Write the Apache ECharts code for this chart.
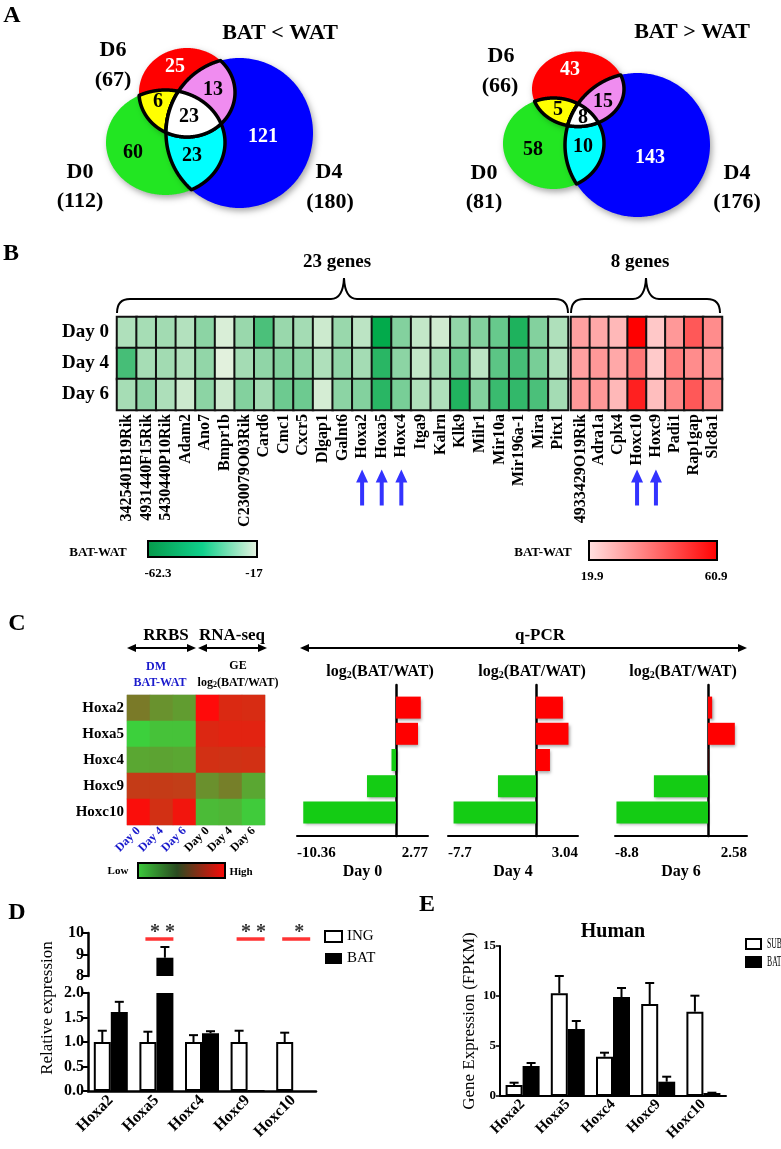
<!DOCTYPE html>
<html>
<head>
<meta charset="utf-8">
<script src="https://cdn.jsdelivr.net/npm/echarts@6.0.0/dist/echarts.min.js"></script>
<style>
html,body{margin:0;padding:0;background:#ffffff;}
#chart{width:781px;height:1149px;}
</style>
</head>
<body>
<div id="chart"></div>
<script>
// ================= DATA =================
// ---- Panel A (Venn counts)
const vennSetNames = ['D0', 'D6', 'D4'];
const vennTitles = ['BAT < WAT', 'BAT > WAT'];
const vennLeftTotals = [112, 67, 180];
const vennRightTotals = [81, 66, 176];
// region order: D0 only, D6 only, D4 only, D0&D6, D0&D4, D6&D4, D0&D6&D4
const vennLeftCounts = [60, 25, 121, 6, 23, 13, 23];
const vennRightCounts = [58, 43, 143, 5, 10, 15, 8];

// ---- Panel B (heatmaps, BAT-WAT)
const dayRows = ['Day 0', 'Day 4', 'Day 6'];
const genesDown = ['3425401B19Rik','4931440F15Rik','5430440P10Rik','Adam2','Ano7','Bmpr1b','C230079O03Rik','Card6','Cmc1','Cxcr5','Dlgap1','Galnt6','Hoxa2','Hoxa5','Hoxc4','Itga9','Kalrn','Klk9','Milr1','Mir10a','Mir196a-1','Mira','Pitx1'];
const downDay0 = [-29, -31, -32, -28, -37, -19.5, -34, -49, -34, -31.5, -22.5, -34, -26, -62, -39, -24.5, -21.5, -35.5, -39, -44, -57, -39, -29];
const downDay4 = [-50, -31, -32, -29, -35.5, -17.5, -31.5, -36, -39, -37, -29, -36, -31.5, -55, -37, -24.5, -31, -43, -26, -46, -50, -41, -28];
const downDay6 = [-31, -36, -29.5, -22.5, -37, -22.5, -39, -31.5, -43, -43, -20.5, -37, -39, -55, -41, -29, -29, -56.5, -39, -52, -53.5, -49, -31.5];
const genesUp = ['4933429O19Rik','Adra1a','Cplx4','Hoxc10','Hoxc9','Padi1','Rap1gap','Slc8a1'];
const upDay0 = [31.6, 30.2, 27.2, 60.9, 24.3, 33.1, 44.8, 35.3];
const upDay4 = [31.6, 33.1, 30.2, 38.9, 23.9, 37.5, 35.3, 33.1];
const upDay6 = [33.1, 33.1, 27.2, 55.0, 26.1, 36.0, 44.8, 36.0];
const downScale = [-62.3, -17];
const upScale = [19.9, 60.9];
const downGroupLabel = '23 genes';
const upGroupLabel = '8 genes';
const arrowGenesDown = ['Hoxa2', 'Hoxa5', 'Hoxc4'];
const arrowGenesUp = ['Hoxc10', 'Hoxc9'];

// ---- Panel C
const hoxGenes = ['Hoxa2', 'Hoxa5', 'Hoxc4', 'Hoxc9', 'Hoxc10'];
const cColumns = ['Day 0', 'Day 4', 'Day 6', 'Day 0', 'Day 4', 'Day 6'];
// relative level 0 (low) .. 1 (high)
const dmDay0 = [0.50, 0.00, 0.24, 0.78, 0.98];
const dmDay4 = [0.36, 0.08, 0.26, 0.78, 0.83];
const dmDay6 = [0.30, 0.08, 0.24, 0.77, 0.95];
const geDay0 = [1.00, 0.87, 0.83, 0.37, 0.12];
const geDay4 = [0.86, 0.89, 0.82, 0.47, 0.15];
const geDay6 = [0.85, 0.89, 0.83, 0.24, 0.03];
const qpcrDays = ['Day 0', 'Day 4', 'Day 6'];
const qpcrDay0 = [2.77, 2.46, -0.5, -3.24, -10.36];
const qpcrDay4 = [2.52, 3.04, 1.31, -3.55, -7.7];
const qpcrDay6 = [0.4, 2.58, 0.02, -5.2, -8.8];
const qpcrAxisMin = [-11.06, -8.22, -8.94];
const qpcrAxisMax = [3.58, 3.93, 3.75];

// ---- Panel D (mouse, relative expression)
const ingMean = [1.0, 1.0, 1.0, 1.0, 1.0];
const ingErrTop = [1.23, 1.21, 1.14, 1.23, 1.19];
const batMean = [1.61, 8.85, 1.18, 0.02, 0.0];
const batErrTop = [1.82, 9.35, 1.22, 0.02, 0.0];
const sigGenes = ['Hoxa5', 'Hoxc9', 'Hoxc10'];
const sigMarks = ['* *', '* *', '*'];

// ---- Panel E (human, FPKM)
const subMean = [1.1, 10.27, 3.93, 9.2, 8.43];
const subErrTop = [1.33, 12.0, 4.33, 11.3, 10.03];
const batHMean = [3.0, 6.7, 9.9, 1.43, 0.3];
const batHErrTop = [3.3, 7.5, 10.8, 1.93, 0.33];
const eLegend = ['SUB', 'BAT'];

// ================= HELPERS / LAYOUT =================
const FONT = 'Liberation Serif';
function fnt(size, weight) { return (weight || 'bold') + ' ' + size + 'px "' + FONT + '"'; }
function gText(x, y, text, size, o) {
  o = o || {};
  const st = { text: text, font: fnt(size, o.weight), fill: o.color || '#000',
    textAlign: o.align || 'center', textVerticalAlign: 'middle', align: o.align || 'center', verticalAlign: 'middle' };
  if (o.rich) st.rich = o.rich;
  const el = { type: 'text', x: x, y: y, rotation: o.rotation || 0, silent: true, z: 100, style: st };
  if (o.scaleX) el.scaleX = o.scaleX;
  return el;
}
function logRich(size, sub) {
  return {
    n: { fontSize: size, fontWeight: 'bold', fontFamily: FONT, fill: '#000', color: '#000' },
    s: { fontSize: sub, fontWeight: 'bold', fontFamily: FONT, fill: '#000', color: '#000', verticalAlign: 'bottom' }
  };
}
function gLine(x1, y1, x2, y2, w) {
  return { type: 'line', silent: true, shape: { x1: x1, y1: y1, x2: x2, y2: y2 }, style: { stroke: '#000', lineWidth: w || 2 } };
}
function gQuad(x1, y1, cx, cy, x2, y2) {
  return { type: 'bezierCurve', silent: true, shape: { x1: x1, y1: y1, x2: x2, y2: y2, cpx1: cx, cpy1: cy },
    style: { stroke: '#000', lineWidth: 2, fill: null } };
}
function brace(xa, xb, xm, yEnd, yLine, yTip) {
  const r = 13;
  return [
    gQuad(xa, yEnd, xa, yLine, xa + r, yLine),
    gLine(xa + r, yLine, xm - r, yLine),
    gQuad(xm - r, yLine, xm - 1, yLine, xm, yTip),
    gQuad(xm, yTip, xm + 1, yLine, xm + r, yLine),
    gLine(xm + r, yLine, xb - r, yLine),
    gQuad(xb - r, yLine, xb, yLine, xb, yEnd)
  ];
}
function dblArrow(x1, x2, y) {
  return [
    gLine(x1 + 4, y, x2 - 4, y, 2),
    { type: 'polygon', silent: true, shape: { points: [[x1, y], [x1 + 9, y - 4], [x1 + 9, y + 4]] }, style: { fill: '#000' } },
    { type: 'polygon', silent: true, shape: { points: [[x2, y], [x2 - 9, y - 4], [x2 - 9, y + 4]] }, style: { fill: '#000' } }
  ];
}
function colorBar(x, y, w, h, stops) {
  return { type: 'rect', silent: true, shape: { x: x, y: y, width: w, height: h },
    style: { fill: { type: 'linear', x: 0, y: 0, x2: 1, y2: 0, colorStops: stops }, stroke: '#000', lineWidth: 2 } };
}

// Venn geometry (ellipses: cx, cy, rx, ry) and label positions, order D0, D6, D4
const VENN_LAYOUT = [
  { sets: [[165.5, 142.5, 59.5, 52.5], [187, 92.5, 48, 44.5], [239.5, 133, 73.5, 75]],
    nums: [[133, 153], [175, 67], [263, 137], [158, 102], [192, 156], [213, 90], [189, 117]],
    setLabels: [[80, 172], [113, 50], [329, 172]], totalLabels: [[80, 201], [113, 80], [330, 202]],
    title: [280, 33] },
  { sets: [[553.5, 143.5, 50.5, 45.5], [578, 89, 46, 37.5], [637.5, 145, 72.5, 72]],
    nums: [[533, 150], [570, 70], [650, 158], [558, 110], [583, 147], [603, 102], [583, 118]],
    setLabels: [[484, 173], [501, 56], [737, 173]], totalLabels: [[484, 202], [500, 86], [737, 202]],
    title: [692, 32] }
];
const setFill = ['#22e622', '#ff0000', '#0000ff'];
const pairFill = [[0, 1, '#ffff00'], [0, 2, '#00ffff'], [1, 2, '#f08cf0']];

function ellipsePts(e, n) {
  const pts = [];
  for (let k = 0; k < n; k++) { const a = 2 * Math.PI * k / n; pts.push([e[0] + e[2] * Math.cos(a), e[1] + e[3] * Math.sin(a)]); }
  return pts;
}
function insideE(e, p) { const dx = (p[0] - e[0]) / e[2], dy = (p[1] - e[1]) / e[3]; return dx * dx + dy * dy <= 1.000001; }
function regionPts(es) {
  const pts = [];
  es.forEach((e, i) => ellipsePts(e, 1440).forEach(p => { if (es.every((o, j) => j === i || insideE(o, p))) pts.push(p); }));
  let cx = 0, cy = 0; pts.forEach(p => { cx += p[0]; cy += p[1]; }); cx /= pts.length; cy /= pts.length;
  pts.sort((a, b) => Math.atan2(a[1] - cy, a[0] - cx) - Math.atan2(b[1] - cy, b[0] - cx));
  return pts;
}
function renderVenn(params, api) {
  const idx = params.dataIndex;
  const L = VENN_LAYOUT[idx];
  const counts = idx === 0 ? vennLeftCounts : vennRightCounts;
  const totals = idx === 0 ? vennLeftTotals : vennRightTotals;
  const px = p => api.coord(p);
  const poly = pts => pts.map(px);
  const ch = [];
  [0, 1, 2].forEach(i => ch.push({ type: 'polygon', shape: { points: poly(ellipsePts(L.sets[i], 360)) },
    style: { fill: setFill[i], shadowBlur: 6, shadowColor: 'rgba(0,0,0,0.35)', shadowOffsetX: 2, shadowOffsetY: 3 } }));
  pairFill.forEach(pf => ch.push({ type: 'polygon', shape: { points: poly(regionPts([L.sets[pf[0]], L.sets[pf[1]]])) },
    style: { fill: pf[2], stroke: '#000', lineWidth: 3.5, lineJoin: 'round' } }));
  ch.push({ type: 'polygon', shape: { points: poly(regionPts(L.sets)) }, style: { fill: '#fff', stroke: '#000', lineWidth: 3.5, lineJoin: 'round' } });
  const t = (p, text, size, color) => { const q = px(p); return { type: 'text', x: q[0], y: q[1],
    style: { text: text, fill: color, font: fnt(size), textAlign: 'center', textVerticalAlign: 'middle', align: 'center', verticalAlign: 'middle' } }; };
  counts.forEach((n, k) => ch.push(t(L.nums[k], String(n), 20, (k === 1 || k === 2) ? '#fff' : '#000')));
  vennSetNames.forEach((s, k) => { ch.push(t(L.setLabels[k], s, 22, '#000')); ch.push(t(L.totalLabels[k], '(' + totals[k] + ')', 22, '#000')); });
  ch.push(t(L.title, vennTitles[idx], 22, '#000'));
  return { type: 'group', children: ch };
}

function heat(rows) {
  const d = [];
  rows.forEach((r, yi) => r.forEach((v, xi) => d.push([xi, yi, v])));
  return d;
}
function errSeries(xi, yi, means, tops, offset, keep) {
  const data = [];
  means.forEach((m, i) => { if (tops[i] > m && keep(tops[i], m)) data.push([i, tops[i], m]); });
  return { type: 'custom', xAxisIndex: xi, yAxisIndex: yi, data: data, silent: true, z: 5,
    renderItem: function (params, api) {
      const i = api.value(0), top = api.value(1), base = api.value(2);
      const p1 = api.coord([i, base]), p2 = api.coord([i, top]);
      const x = p1[0] + offset;
      return { type: 'group', children: [
        { type: 'line', shape: { x1: x, y1: p1[1], x2: x, y2: p2[1] }, style: { stroke: '#000', lineWidth: 2 } },
        { type: 'line', shape: { x1: x - 4.5, y1: p2[1], x2: x + 4.5, y2: p2[1] }, style: { stroke: '#000', lineWidth: 2 } }
      ] };
    } };
}

const BAR_W = 17;
const axisBlack = w => ({ show: true, onZero: false, lineStyle: { color: '#000', width: w } });
const hid = (type, gi, extra) => Object.assign({ type: type, gridIndex: gi, show: false }, extra || {});

// ================= GRIDS =================
const grids = [
  { left: 0, top: 0, width: 781, height: 1149 },            // 0 page (venn)
  { left: 117, top: 317, width: 451, height: 93 },           // 1 B down
  { left: 571, top: 317, width: 151, height: 93 },           // 2 B up
  { left: 117, top: 469, width: 451, height: 37 },           // 3 arrows down
  { left: 571, top: 469, width: 151, height: 37 },           // 4 arrows up
  { left: 127, top: 695, width: 138, height: 130, show: true, borderColor: '#d8d8d8', borderWidth: 1 }, // 5 C heat
  { left: 297, top: 694.5, width: 131, height: 131 },        // 6 qPCR bars
  { left: 448, top: 694.5, width: 130, height: 131 },        // 7
  { left: 615, top: 694.5, width: 132, height: 131 },        // 8
  { left: 297, top: 685, width: 131, height: 151 },          // 9 qPCR frame
  { left: 448, top: 685, width: 130, height: 151 },          // 10
  { left: 615, top: 685, width: 132, height: 151 },          // 11
  { left: 88, top: 933, width: 228, height: 43 },            // 12 D upper
  { left: 88, top: 993, width: 228, height: 98 },            // 13 D lower
  { left: 500, top: 946, width: 226, height: 150 }           // 14 E
];

const geneLabel = { rotate: 90, interval: 0, fontFamily: FONT, fontWeight: 'bold', fontSize: 16, color: '#000', margin: 4 };
const qpcrData = [qpcrDay0, qpcrDay4, qpcrDay6];

const xAxes = [
  hid('value', 0, { min: 0, max: 781 }),
  { type: 'category', gridIndex: 1, data: genesDown, axisLine: { show: false }, axisTick: { show: false }, axisLabel: geneLabel },
  { type: 'category', gridIndex: 2, data: genesUp, axisLine: { show: false }, axisTick: { show: false }, axisLabel: geneLabel },
  hid('category', 3, { data: genesDown }),
  hid('category', 4, { data: genesUp }),
  { type: 'category', gridIndex: 5, data: cColumns, axisLine: { show: false }, axisTick: { show: false },
    axisLabel: { rotate: 45, interval: 0, fontFamily: FONT, fontWeight: 'bold', fontSize: 12, margin: 4,
      color: (v, i) => (i < 3 ? '#1a1acc' : '#000') } }
];
[0, 1, 2].forEach(k => xAxes.push(hid('value', 6 + k, { min: qpcrAxisMin[k], max: qpcrAxisMax[k] })));
[0, 1, 2].forEach(k => {
  const lo = String(Math.min.apply(null, qpcrData[k])), hi = String(Math.max.apply(null, qpcrData[k]));
  xAxes.push({ type: 'value', gridIndex: 9 + k, min: qpcrAxisMin[k], max: qpcrAxisMax[k],
    axisLine: axisBlack(2), axisTick: { show: false }, splitLine: { show: false },
    axisLabel: { customValues: [qpcrAxisMin[k], qpcrAxisMax[k]], formatter: v => (v < 0 ? lo : hi),
      alignMinLabel: 'left', alignMaxLabel: 'right', fontFamily: FONT, fontWeight: 'bold', fontSize: 15, color: '#000', margin: 10 },
    name: qpcrDays[k], nameLocation: 'middle', nameGap: 28,
    nameTextStyle: { fontFamily: FONT, fontWeight: 'bold', fontSize: 16, color: '#000' } });
});
xAxes.push(hid('category', 12, { data: hoxGenes }));
xAxes.push({ type: 'category', gridIndex: 13, data: hoxGenes, axisLine: axisBlack(2.5),
  axisTick: { alignWithLabel: true, length: 5, lineStyle: { color: '#000', width: 2 } },
  axisLabel: { rotate: 45, interval: 0, fontFamily: FONT, fontWeight: 'bold', fontSize: 16, color: '#000', margin: 7 } });
xAxes.push({ type: 'category', gridIndex: 14, data: hoxGenes, axisLine: axisBlack(2),
  axisTick: { alignWithLabel: true, length: 4, lineStyle: { color: '#000', width: 1.5 } },
  axisLabel: { rotate: 45, interval: 0, fontFamily: FONT, fontWeight: 'bold', fontSize: 15, color: '#000', margin: 6 } });

const yAxes = [
  hid('value', 0, { min: 0, max: 1149, inverse: true }),
  { type: 'category', gridIndex: 1, data: dayRows, inverse: true, axisLine: { show: false }, axisTick: { show: false },
    axisLabel: { fontFamily: FONT, fontWeight: 'bold', fontSize: 19, color: '#000', margin: 8 } },
  hid('category', 2, { data: dayRows, inverse: true }),
  hid('value', 3, { min: 0, max: 1 }),
  hid('value', 4, { min: 0, max: 1 }),
  { type: 'category', gridIndex: 5, data: hoxGenes, inverse: true, axisLine: { show: false }, axisTick: { show: false },
    axisLabel: { fontFamily: FONT, fontWeight: 'bold', fontSize: 15, color: '#000', margin: 3 } }
];
[0, 1, 2].forEach(k => yAxes.push(hid('category', 6 + k, { data: hoxGenes, inverse: true })));
[0, 1, 2].forEach(k => yAxes.push({ type: 'value', gridIndex: 9 + k, min: 0, max: 1,
  axisLine: { show: true, onZero: true, lineStyle: { color: '#000', width: 2.5 } }, axisTick: { show: false },
  axisLabel: { show: false }, splitLine: { show: false } }));
const yTickStyle = { show: true, length: 5, lineStyle: { color: '#000', width: 2 } };
const yLabStyle = { fontFamily: FONT, fontWeight: 'bold', fontSize: 16, color: '#000', margin: 4 };
yAxes.push({ type: 'value', gridIndex: 12, min: 8, max: 10, interval: 1, axisLine: axisBlack(2.5), axisTick: yTickStyle,
  splitLine: { show: false }, axisLabel: yLabStyle });
yAxes.push({ type: 'value', gridIndex: 13, min: 0, max: 2, interval: 0.5, axisLine: axisBlack(2.5), axisTick: yTickStyle,
  splitLine: { show: false }, axisLabel: Object.assign({ formatter: v => v.toFixed(1) }, yLabStyle) });
yAxes.push({ type: 'value', gridIndex: 14, min: 0, max: 15, interval: 5, axisLine: axisBlack(2),
  axisTick: { show: true, length: 4, lineStyle: { color: '#000', width: 1.5 } }, splitLine: { show: false },
  axisLabel: { fontFamily: FONT, fontWeight: 'bold', fontSize: 13, color: '#000', margin: 4 },
  name: 'Gene Expression (FPKM)', nameLocation: 'middle', nameGap: 22,
  nameTextStyle: { fontFamily: FONT, fontSize: 17, color: '#000' } });

// ================= SERIES =================
const ARROW = 'path://M6,0 L12,13 L8,13 L8,36 L4,36 L4,13 L0,13 Z';
const series = [];
series.push({ type: 'custom', xAxisIndex: 0, yAxisIndex: 0, data: [[0, 0], [1, 0]], renderItem: renderVenn, silent: true, clip: false });
const sDown = series.length;
series.push({ type: 'heatmap', xAxisIndex: 1, yAxisIndex: 1, data: heat([downDay0, downDay4, downDay6]),
  itemStyle: { borderColor: '#111', borderWidth: 2 }, emphasis: { disabled: true } });
const sUp = series.length;
series.push({ type: 'heatmap', xAxisIndex: 2, yAxisIndex: 2, data: heat([upDay0, upDay4, upDay6]),
  itemStyle: { borderColor: '#111', borderWidth: 2 }, emphasis: { disabled: true } });
series.push({ type: 'scatter', xAxisIndex: 3, yAxisIndex: 3, data: arrowGenesDown.map(g => [g, 0.5]), symbol: ARROW,
  symbolSize: [12, 36], itemStyle: { color: '#0000ff' }, silent: true });
series.push({ type: 'scatter', xAxisIndex: 4, yAxisIndex: 4, data: arrowGenesUp.map(g => [g, 0.5]), symbol: ARROW,
  symbolSize: [12, 36], itemStyle: { color: '#0000ff' }, silent: true });
const sC = series.length;
const cCols = [dmDay0, dmDay4, dmDay6, geDay0, geDay4, geDay6];
const cData = [];
cCols.forEach((col, c) => col.forEach((v, r) => cData.push([c, r, v])));
series.push({ type: 'heatmap', xAxisIndex: 5, yAxisIndex: 5, data: cData, emphasis: { disabled: true } });
qpcrData.forEach((vals, k) => series.push({ type: 'bar', xAxisIndex: 6 + k, yAxisIndex: 6 + k, data: vals, barWidth: 22, silent: true,
  itemStyle: { color: p => (p.value >= 0 ? '#ff0000' : '#14cc14'), shadowBlur: 3, shadowColor: 'rgba(0,0,0,0.35)', shadowOffsetX: 1.5, shadowOffsetY: 2 } }));

// Panel D
const whiteBar = { color: '#fff', borderColor: '#000', borderWidth: 2 };
const blackBar = { color: '#000' };
series.push({ type: 'bar', name: 'ING', xAxisIndex: 13, yAxisIndex: 13, data: ingMean, barWidth: BAR_W, barGap: '0%', itemStyle: whiteBar, silent: true });
series.push({ type: 'bar', name: 'BAT', xAxisIndex: 13, yAxisIndex: 13, data: batMean, barWidth: BAR_W, barGap: '0%', itemStyle: blackBar, silent: true });
series.push({ type: 'bar', name: 'ING', xAxisIndex: 12, yAxisIndex: 12, data: ingMean.map(v => (v > 8 ? v : '-')), barWidth: BAR_W, barGap: '0%', itemStyle: whiteBar, silent: true });
series.push({ type: 'bar', name: 'BAT', xAxisIndex: 12, yAxisIndex: 12, data: batMean.map(v => (v > 8 ? v : '-')), barWidth: BAR_W, barGap: '0%', itemStyle: blackBar, silent: true });
series.push(errSeries(13, 13, ingMean, ingErrTop, -BAR_W / 2, (t) => t <= 2));
series.push(errSeries(13, 13, batMean, batErrTop, BAR_W / 2, (t) => t <= 2));
series.push(errSeries(12, 12, batMean, batErrTop, BAR_W / 2, (t, m) => m >= 8));
series.push({ type: 'scatter', xAxisIndex: 12, yAxisIndex: 12, silent: true, symbol: 'rect', symbolSize: [28, 3.5], symbolOffset: [3, 0],
  itemStyle: { color: '#ff0000' },
  data: sigGenes.map((g, k) => ({ value: [g, 9.72], label: { formatter: sigMarks[k] } })),
  label: { show: true, position: 'top', distance: -6, offset: [3, 0], fontFamily: FONT, fontWeight: 'bold', fontSize: 20, color: '#000' } });

// Panel E
series.push({ type: 'bar', name: 'SUB', xAxisIndex: 14, yAxisIndex: 14, data: subMean, barWidth: BAR_W, barGap: '0%', itemStyle: whiteBar, silent: true });
series.push({ type: 'bar', name: 'BAT', xAxisIndex: 14, yAxisIndex: 14, data: batHMean, barWidth: BAR_W, barGap: '0%', itemStyle: blackBar, silent: true });
series.push(errSeries(14, 14, subMean, subErrTop, -BAR_W / 2, () => true));
series.push(errSeries(14, 14, batHMean, batHErrTop, BAR_W / 2, () => true));

// ================= GRAPHIC ANNOTATIONS =================
const G = [];
// panel letters
G.push(gText(12, 16, 'A', 24), gText(11, 254, 'B', 24), gText(17, 624, 'C', 24), gText(17, 913, 'D', 24), gText(427, 905, 'E', 24));
// B braces + labels
brace(117, 568, 344, 313, 299, 278).forEach(e => G.push(e));
brace(571, 720, 646, 313, 299, 278).forEach(e => G.push(e));
G.push(gText(337, 262, downGroupLabel, 19), gText(640, 262, upGroupLabel, 19));
// B color bars
G.push(gText(98, 553, 'BAT-WAT', 13));
G.push(colorBar(148, 541, 109, 16, [{ offset: 0, color: '#06994a' }, { offset: 0.5, color: '#10d08c' }, { offset: 1, color: '#eaf3e2' }]));
G.push(gText(158, 574, String(downScale[0]), 13), gText(254, 574, String(downScale[1]), 13));
G.push(gText(543, 553, 'BAT-WAT', 13));
G.push(colorBar(589, 541, 128, 19, [{ offset: 0, color: '#ffe2e2' }, { offset: 1, color: '#ff0000' }]));
G.push(gText(592, 577, String(upScale[0]), 13), gText(716, 577, String(upScale[1]), 13));
// C headers
G.push(gText(166, 636, 'RRBS', 17), gText(232, 636, 'RNA-seq', 17));
dblArrow(127, 196, 648).forEach(e => G.push(e));
dblArrow(198, 267, 648).forEach(e => G.push(e));
G.push(gText(156, 667, 'DM', 12, { color: '#1a1acc' }), gText(160, 683, 'BAT-WAT', 12, { color: '#1a1acc' }));
G.push(gText(238, 666, 'GE', 12), gText(238, 683, '{n|log}{s|2}{n|(BAT/WAT)}', 12, { rich: logRich(12, 8) }));
G.push(gText(540, 636, 'q-PCR', 17));
dblArrow(300, 747, 648).forEach(e => G.push(e));
[380, 532, 683].forEach(x => G.push(gText(x, 672, '{n|log}{s|2}{n|(BAT/WAT)}', 16, { rich: logRich(16, 10) })));
G.push(colorBar(138, 863, 87, 15, [{ offset: 0, color: '#3ccc3c' }, { offset: 0.45, color: '#2a4a20' }, { offset: 1, color: '#ff0808' }]));
G.push(gText(118, 871, 'Low', 11), gText(241, 872, 'High', 11));
// D y-axis name (spans broken axis)
G.push(gText(48, 1008, 'Relative expression', 17, { weight: 'normal', rotation: Math.PI / 2 }));
// E title
G.push(gText(613, 932, 'Human', 20));
// E legend (narrow space at the right edge)
G.push({ type: 'rect', silent: true, shape: { x: 746, y: 939, width: 15, height: 10 }, style: { fill: '#fff', stroke: '#000', lineWidth: 2 } });
G.push({ type: 'rect', silent: true, shape: { x: 745, y: 956, width: 17, height: 12 }, style: { fill: '#000' } });
G.push(gText(767, 944, eLegend[0], 14, { weight: 'normal', align: 'left', scaleX: 0.55 }));
G.push(gText(767, 962, eLegend[1], 14, { weight: 'normal', align: 'left', scaleX: 0.55 }));

// ================= OPTION =================
const option = {
  animation: false,
  backgroundColor: '#ffffff',
  textStyle: { fontFamily: FONT },
  grid: grids,
  xAxis: xAxes,
  yAxis: yAxes,
  visualMap: [
    { type: 'continuous', show: false, seriesIndex: sDown, dimension: 2, min: downScale[0], max: downScale[1],
      inRange: { color: ['#00a94a', '#80d09c', '#e4f2de'] } },
    { type: 'continuous', show: false, seriesIndex: sUp, dimension: 2, min: upScale[0], max: upScale[1],
      inRange: { color: ['#ffe0e0', '#ff0000'] } },
    { type: 'continuous', show: false, seriesIndex: sC, dimension: 2, min: 0, max: 1,
      inRange: { color: ['#3cd03c', '#7a7a28', '#ff0a0a'] } }
  ],
  legend: [
    { left: 324, top: 929, orient: 'vertical', padding: 0, itemWidth: 17, itemHeight: 11, itemGap: 7, icon: 'rect',
      selectedMode: false, data: ['ING', 'BAT'], textStyle: { fontFamily: FONT, fontSize: 15, color: '#000' } }
  ],
  graphic: { elements: G },
  series: series
};

const chart = echarts.init(document.getElementById('chart'), null, { renderer: 'canvas' });
chart.setOption(option);
</script>
</body>
</html>
